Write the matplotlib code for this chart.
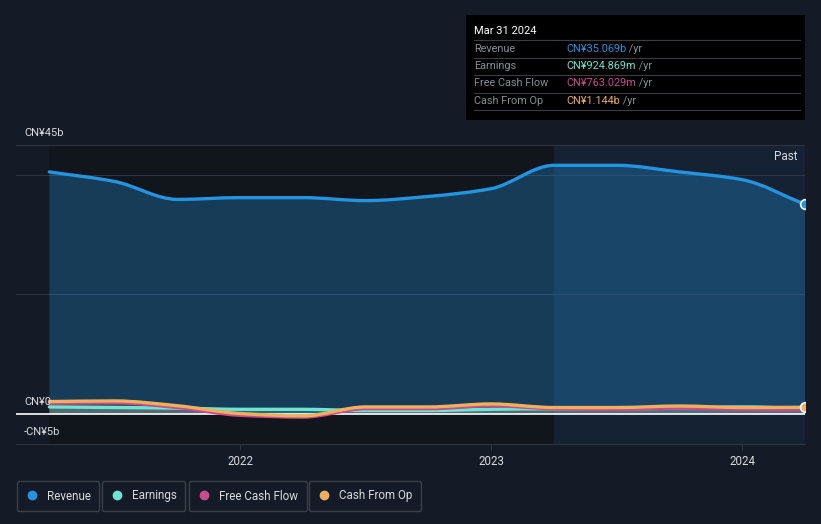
import numpy as np
import matplotlib as mpl
import matplotlib.pyplot as plt
from matplotlib.path import Path
from matplotlib.patches import PathPatch, Rectangle
from matplotlib.lines import Line2D

mpl.rcParams['font.family'] = ['Roboto', 'DejaVu Sans']

# quarterly data, CN¥ billions
quarters = [2021.24, 2021.5, 2021.75, 2022.0, 2022.25, 2022.5, 2022.75,
            2023.0, 2023.25, 2023.5, 2023.75, 2024.0, 2024.25]
revenue = [40.5, 38.9, 35.9, 36.2, 36.2, 35.7, 36.4, 37.7, 41.6, 41.6, 40.5, 39.2, 35.069]
earnings = [1.2, 1.1, 1.0, 0.8, 0.8, 0.6, 0.6, 0.8, 0.9, 0.9, 1.0, 1.2, 0.925]
fcf = [1.8, 1.9, 1.1, -0.2, -0.5, 0.9, 0.9, 1.4, 0.9, 0.8, 1.0, 0.8, 0.763]
cfo = [2.1, 2.2, 1.4, 0.1, -0.3, 1.2, 1.2, 1.7, 1.1, 1.1, 1.35, 1.1, 1.144]

series_names = ['Revenue', 'Earnings', 'Free Cash Flow', 'Cash From Op']
series_colors = ['#2394df', '#6ce5d2', '#c94b8c', '#eeb05c']
tooltip_values = ['CN¥35.069b', 'CN¥924.869m', 'CN¥763.029m', 'CN¥1.144b']

year_ticks = [2022, 2023, 2024]
y_labels = {45: 'CN¥45b', 0: 'CN¥0', -5: '-CN¥5b'}
past_start = 2023.25

BG = '#151b26'
GRID = '#2e3440'
TXT = '#d8dadd'


def smooth(x, y):
    # monotone cubic drawn as bezier segments
    x = np.asarray(x, float)
    y = np.asarray(y, float)
    h = np.diff(x)
    d = np.diff(y) / h
    m = np.zeros_like(y)
    m[0], m[-1] = d[0], d[-1]
    for i in range(1, len(y) - 1):
        if d[i - 1] * d[i] > 0:
            m[i] = 2 * d[i - 1] * d[i] / (d[i - 1] + d[i])
    verts = [(x[0], y[0])]
    for i in range(len(h)):
        verts += [(x[i] + h[i] / 3, y[i] + m[i] * h[i] / 3),
                  (x[i + 1] - h[i] / 3, y[i + 1] - m[i + 1] * h[i] / 3),
                  (x[i + 1], y[i + 1])]
    codes = [Path.MOVETO] + [Path.CURVE4] * (3 * len(h))
    return verts, codes


fig = plt.figure(figsize=(8.21, 5.24), dpi=100, facecolor=BG)
ax = fig.add_axes([16 / 821, 1 - 444 / 524, 789 / 821, 299 / 524])
ax.set_facecolor(BG)
xmin, xmax = 2021.107, 2024.25
ax.set_xlim(xmin, xmax)
ax.set_ylim(-5, 45)

ax.axvspan(quarters[0], past_start, color='#11151c', zorder=0)
ax.axvspan(past_start, xmax, color='#142233', zorder=0)

for v in [20, 40, 45]:
    ax.axhline(v, color=GRID, lw=0.8, zorder=1)
ax.axhline(0, color='white', lw=1.2, zorder=6)

alphas = [0.31, 0.25, 0.12, 0.12]
for vals, col, a, z in zip([revenue, earnings, fcf, cfo], series_colors, alphas, [2, 3, 3, 3]):
    verts, codes = smooth(quarters, vals)
    fv = verts + [(quarters[-1], 0), (quarters[0], 0), (quarters[0], vals[0])]
    fc = codes + [Path.LINETO, Path.LINETO, Path.CLOSEPOLY]
    ax.add_patch(PathPatch(Path(fv, fc), facecolor=col, edgecolor='none', alpha=a, zorder=z))

for vals, col, z in zip([revenue, earnings, fcf, cfo], series_colors, [5, 7, 8, 9]):
    verts, codes = smooth(quarters, vals)
    ax.add_patch(PathPatch(Path(verts, codes), fill=False, edgecolor=col, lw=2.4,
                           capstyle='round', zorder=z))

for vals, col in [(revenue, series_colors[0]), (cfo, series_colors[3])]:
    dot, = ax.plot(quarters[-1], vals[-1], 'o', ms=7, color=col, mec='white', mew=1.2,
                   zorder=10)
    dot.set_clip_path(ax.patch)

for s in ['top', 'right', 'left']:
    ax.spines[s].set_visible(False)
ax.spines['bottom'].set_color(GRID)
ax.set_yticks([])
ax.set_xticks(year_ticks)
ax.set_xticklabels([str(t) for t in year_ticks])
ax.tick_params(axis='x', colors=GRID, labelcolor=TXT, labelsize=8.3, length=4, pad=4)

for v, lab in y_labels.items():
    ax.annotate(lab, xy=(8 / 789, v), xycoords=('axes fraction', 'data'),
                xytext=(0, 12), textcoords='offset pixels', va='center', ha='left',
                color=TXT, fontsize=8, zorder=11)

ax.text(0.99, 0.96, 'Past', transform=ax.transAxes, ha='right', va='center',
        color=TXT, fontsize=8.5, zorder=11)

# tooltip box
fig.patches.append(Rectangle((466 / 821, 1 - 120 / 524), 339 / 821, 105 / 524,
                             transform=fig.transFigure, facecolor='#000000', edgecolor='none'))
fig.text(474 / 821, 1 - 31 / 524, 'Mar 31 2024', color='white', fontsize=8, va='center')
for yy in [40, 57.5, 75, 92.5, 110]:
    fig.add_artist(Line2D([474 / 821, 800 / 821], [1 - yy / 524] * 2, color='#3a3d42', lw=0.8))
for i, (name, col, val) in enumerate(zip(series_names, series_colors, tooltip_values)):
    yy = 1 - (48.5 + 17.5 * i) / 524
    fig.text(474 / 821, yy, name, color='#8a8e94', fontsize=7.8, va='center')
    t = fig.text(566 / 821, yy, val, color=col, fontsize=7.8, va='center')
    fig.add_artist(mpl.text.Annotation(' /yr', xy=(1, 0.5), xycoords=t, va='center',
                                       color='#8a8e94', fontsize=7.8))

# legend boxes
lx = [17, 102, 189, 309]
for x0, name, col in zip(lx, series_names, series_colors):
    h = Line2D([], [], marker='o', ls='none', color=col, ms=6)
    fig.legend(handles=[h], labels=[name], loc='center left',
               bbox_to_anchor=(x0 / 821, 1 - 496 / 524), frameon=True, fancybox=True,
               facecolor=BG, edgecolor='#3a3f48', labelcolor=TXT, fontsize=8.4,
               handletextpad=0.7, borderpad=0.75, borderaxespad=0, handlelength=1.1,
               framealpha=1)

plt.savefig('out.png', dpi=100, facecolor=BG)
